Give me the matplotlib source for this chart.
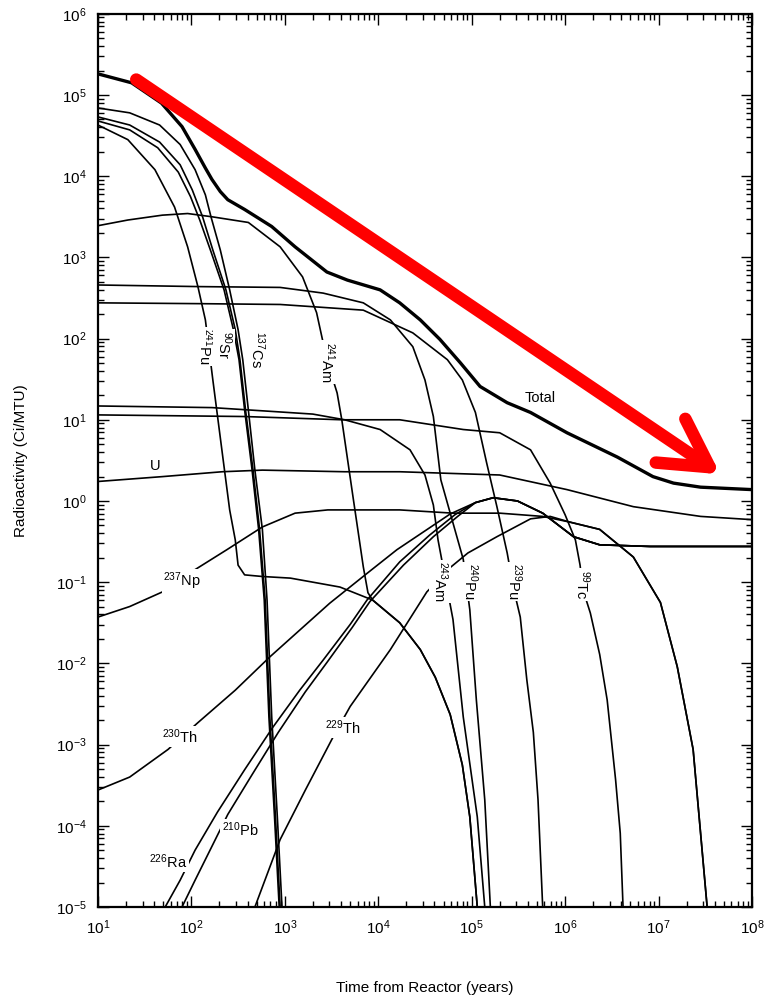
import numpy as np
import matplotlib
matplotlib.use("Agg")
import matplotlib.pyplot as plt
import matplotlib.transforms as mtransforms
from matplotlib.ticker import LogLocator, NullFormatter

plt.rcParams['font.family'] = ['Liberation Sans', 'DejaVu Sans']
plt.rcParams['mathtext.fontset'] = 'custom'
plt.rcParams['mathtext.rm'] = 'Liberation Sans'
plt.rcParams['mathtext.it'] = 'Liberation Sans:italic'

# curves given as log10 exponents: time (years) and activity (Ci/MTU)
lt_total = [1.0, 1.36, 1.68, 1.90, 2.04, 2.15, 2.22, 2.31, 2.39, 2.48, 2.57, 2.86, 3.11, 3.45,
            3.67, 4.02, 4.23, 4.45, 4.66, 4.88, 5.09, 5.38, 5.63, 6.02, 6.56, 6.94, 7.16,
            7.45, 8.0]
la_total = [5.26, 5.15, 4.90, 4.61, 4.33, 4.10, 3.96, 3.81, 3.71, 3.65, 3.59, 3.38, 3.13, 2.82,
            2.72, 2.60, 2.44, 2.23, 1.99, 1.70, 1.41, 1.21, 1.09, 0.84, 0.54, 0.30, 0.22,
            0.17, 0.14]

lt_cs137 = [1.00, 1.34, 1.66, 1.88, 2.04, 2.15, 2.21, 2.31, 2.41, 2.50, 2.55, 2.61, 2.68,
            2.76, 2.81, 2.86, 2.92, 2.97]
la_cs137 = [4.84, 4.78, 4.63, 4.39, 4.08, 3.77, 3.50, 3.09, 2.60, 2.11, 1.74, 1.12, 0.38,
            -0.35, -1.22, -2.66, -3.89, -5.0]

lt_sr90 = [1.00, 1.34, 1.66, 1.88, 2.01, 2.12, 2.23, 2.37, 2.47, 2.52, 2.58, 2.66, 2.73,
           2.79, 2.84, 2.90, 2.95]
la_sr90 = [4.73, 4.63, 4.42, 4.14, 3.83, 3.50, 3.09, 2.60, 2.11, 1.74, 1.12, 0.38, -0.35,
           -1.22, -2.66, -3.89, -5.0]

lt_ba137 = [1.00, 1.34, 1.64, 1.86, 1.99, 2.09, 2.21, 2.35, 2.45, 2.51, 2.57, 2.65, 2.72,
            2.78, 2.83, 2.89, 2.94]
la_ba137 = [4.68, 4.57, 4.35, 4.05, 3.75, 3.46, 3.07, 2.60, 2.11, 1.74, 1.12, 0.38, -0.35,
            -1.22, -2.66, -3.89, -5.0]

lt_pu241 = [1.00, 1.32, 1.61, 1.82, 1.96, 2.07, 2.15, 2.23, 2.34, 2.41, 2.47, 2.50, 2.57,
            2.76, 3.06, 3.59, 3.94, 4.23, 4.45, 4.61, 4.77, 4.90, 4.98, 5.06]
la_pu241 = [4.63, 4.45, 4.08, 3.62, 3.13, 2.64, 2.23, 1.49, 0.51, -0.11, -0.48, -0.79, -0.91,
            -0.93, -0.95, -1.06, -1.22, -1.50, -1.83, -2.17, -2.63, -3.25, -3.89, -5.0]

lt_am241 = [1.00, 1.32, 1.69, 1.96, 2.22, 2.61, 2.95, 3.19, 3.34, 3.45, 3.56, 3.61, 3.73,
            3.84, 3.89, 3.94, 4.23, 4.45, 4.61, 4.77, 4.90, 4.98, 5.06]
la_am241 = [3.39, 3.46, 3.52, 3.54, 3.50, 3.43, 3.13, 2.76, 2.32, 1.74, 1.33, 1.00, 0.05,
            -0.81, -1.13, -1.22, -1.50, -1.83, -2.17, -2.63, -3.25, -3.89, -5.0]

lt_pu240 = [1.00, 2.09, 2.95, 3.41, 3.84, 4.13, 4.37, 4.50, 4.59, 4.67, 4.79, 4.91, 4.98,
            5.05, 5.14, 5.20]
la_pu240 = [2.66, 2.64, 2.63, 2.56, 2.44, 2.23, 1.90, 1.49, 1.04, 0.26, -0.23, -0.72, -1.34,
            -2.45, -3.68, -5.0]

lt_pu239 = [1.00, 2.09, 2.95, 3.84, 4.37, 4.74, 4.90, 5.04, 5.16, 5.27, 5.38, 5.45, 5.52,
            5.59, 5.66, 5.71, 5.76]
la_pu239 = [2.44, 2.43, 2.42, 2.35, 2.07, 1.74, 1.49, 1.09, 0.47, -0.07, -0.64, -1.09, -1.43,
            -2.20, -2.85, -3.68, -5.0]

lt_am243 = [1.00, 2.22, 2.90, 3.30, 3.64, 4.02, 4.34, 4.50, 4.59, 4.64, 4.72, 4.80, 4.91,
            5.06, 5.14]
la_am243 = [1.17, 1.15, 1.10, 1.07, 1.00, 0.88, 0.63, 0.32, -0.05, -0.48, -0.97, -1.46, -2.66,
            -3.89, -5.0]

lt_tc99 = [1.00, 2.57, 3.61, 4.23, 4.91, 5.30, 5.63, 5.84, 6.00, 6.11, 6.16, 6.19, 6.27,
           6.37, 6.45, 6.54, 6.59, 6.62]
la_tc99 = [1.06, 1.04, 1.00, 1.00, 0.88, 0.84, 0.63, 0.22, -0.17, -0.48, -0.79, -1.09, -1.38,
           -1.89, -2.45, -3.43, -4.09, -5.0]

lt_u = [1.00, 1.69, 2.33, 2.76, 3.64, 4.23, 5.30, 6.02, 6.73, 7.45, 8.0]
la_u = [0.24, 0.30, 0.36, 0.38, 0.36, 0.36, 0.32, 0.14, -0.07, -0.19, -0.23]

lt_np237 = [1.00, 1.34, 1.69, 1.95, 2.38, 2.76, 3.11, 3.46, 4.23, 4.80, 5.30, 5.76, 6.05,
            6.37, 6.73, 7.02, 7.20, 7.37, 7.52]
la_np237 = [-1.43, -1.30, -1.12, -0.91, -0.60, -0.32, -0.15, -0.11, -0.11, -0.15, -0.15, -0.19,
            -0.26, -0.35, -0.69, -1.25, -2.04, -3.06, -5.0]

lt_th229 = [2.68, 2.95, 3.22, 3.52, 3.70, 4.13, 4.52, 4.77, 4.96, 5.27, 5.63, 5.84, 6.05,
            6.37, 6.73, 7.02, 7.20, 7.37, 7.52]
la_th229 = [-5.0, -4.17, -3.56, -2.90, -2.53, -1.83, -1.12, -0.82, -0.64, -0.44, -0.22, -0.19,
            -0.26, -0.35, -0.69, -1.25, -2.04, -3.06, -5.0]

lt_th230 = [1.00, 1.34, 1.75, 2.07, 2.47, 2.84, 3.16, 3.48, 3.86, 4.20, 4.55, 4.77, 5.04,
            5.23, 5.49, 5.76, 6.09, 6.37, 6.91, 8.0]
la_th230 = [-3.56, -3.40, -3.06, -2.73, -2.33, -1.92, -1.59, -1.26, -0.91, -0.60, -0.33, -0.16,
            -0.02, 0.04, 0.00, -0.15, -0.44, -0.54, -0.56, -0.56]

lt_ra226 = [1.72, 1.88, 2.04, 2.28, 2.57, 2.87, 3.16, 3.41, 3.70, 3.88, 4.23, 4.55, 4.82,
            5.04, 5.23, 5.49, 5.76, 6.09, 6.37, 6.91, 8.0]
la_ra226 = [-5.0, -4.67, -4.30, -3.83, -3.31, -2.79, -2.33, -1.96, -1.52, -1.22, -0.75, -0.42,
            -0.17, -0.02, 0.04, 0.00, -0.15, -0.44, -0.54, -0.56, -0.56]

lt_pb210 = [1.90, 2.04, 2.20, 2.39, 2.65, 2.93, 3.22, 3.45, 3.72, 3.91, 4.27, 4.59, 4.85,
            5.04, 5.23, 5.49, 5.76, 6.09, 6.37, 6.91, 8.0]
la_pb210 = [-5.0, -4.67, -4.30, -3.86, -3.37, -2.85, -2.35, -1.99, -1.56, -1.24, -0.79, -0.44,
            -0.19, -0.02, 0.04, 0.00, -0.15, -0.44, -0.54, -0.56, -0.56]

thin_curves = [(lt_cs137, la_cs137), (lt_sr90, la_sr90), (lt_ba137, la_ba137),
               (lt_pu241, la_pu241), (lt_am241, la_am241), (lt_pu240, la_pu240),
               (lt_pu239, la_pu239), (lt_am243, la_am243), (lt_tc99, la_tc99),
               (lt_u, la_u), (lt_np237, la_np237), (lt_th229, la_th229),
               (lt_th230, la_th230), (lt_ra226, la_ra226), (lt_pb210, la_pb210)]

# curve labels: text, log10 t, log10 A, rotation
labels = [("Total", 5.73, 1.27, 0),
          ("U", 1.61, 0.43, 0),
          ("$^{237}$Np", 1.90, -0.99, 0),
          ("$^{230}$Th", 1.88, -2.90, 0),
          ("$^{229}$Th", 3.62, -2.79, 0),
          ("$^{210}$Pb", 2.52, -4.05, 0),
          ("$^{226}$Ra", 1.75, -4.44, 0),
          ("$^{241}$Pu", 2.15, 1.90, -90),
          ("$^{90}$Sr", 2.35, 1.92, -90),
          ("$^{137}$Cs", 2.71, 1.86, -90),
          ("$^{241}$Am", 3.46, 1.71, -90),
          ("$^{243}$Am", 4.66, -0.99, -90),
          ("$^{240}$Pu", 4.99, -0.99, -90),
          ("$^{239}$Pu", 5.46, -0.99, -90),
          ("$^{99}$Tc", 6.18, -1.03, -90)]

arrow_start = (1.41, 5.19)
arrow_tip = (7.71, 0.29)

fig = plt.figure(figsize=(7.65, 9.98), dpi=100)
ax = fig.add_axes([0.128, 0.0912, 0.855, 0.895])
ax.set_xscale('log')
ax.set_yscale('log')
ax.set_xlim(1e1, 1e8)
ax.set_ylim(1e-5, 1e6)

for lt, la in thin_curves:
    ax.plot(10 ** np.array(lt), 10 ** np.array(la), color='black', lw=1.2, zorder=2,
            solid_joinstyle='round')
ax.plot(10 ** np.array(lt_total), 10 ** np.array(la_total), color='black', lw=2.4, zorder=3,
        solid_joinstyle='round')

for txt, lx, ly, rot in labels:
    ax.text(10 ** lx, 10 ** ly, txt, rotation=rot, ha='center', va='center', fontsize=10.5,
            zorder=5, bbox=dict(facecolor='white', edgecolor='none', pad=1.0))

# red trend arrow over the total curve
ax.annotate('', xy=(10 ** arrow_tip[0], 10 ** arrow_tip[1]),
            xytext=(10 ** arrow_start[0], 10 ** arrow_start[1]),
            arrowprops=dict(arrowstyle='->,head_length=3.4,head_width=1.9',
                            color='#ff0000', lw=9, shrinkA=0, shrinkB=4,
                            capstyle='round', joinstyle='round'),
            zorder=6)

ax.xaxis.set_major_locator(LogLocator(base=10, numticks=10))
ax.xaxis.set_minor_locator(LogLocator(base=10, subs=np.arange(2, 10), numticks=20))
ax.yaxis.set_major_locator(LogLocator(base=10, numticks=15))
ax.yaxis.set_minor_locator(LogLocator(base=10, subs=np.arange(2, 10), numticks=20))
ax.xaxis.set_minor_formatter(NullFormatter())
ax.yaxis.set_minor_formatter(NullFormatter())
ax.tick_params(which='both', direction='in', top=True, right=True, width=1.0)
ax.tick_params(which='major', length=8, labelsize=11, pad=8)
ax.tick_params(which='minor', length=4)
for sp in ax.spines.values():
    sp.set_linewidth(1.6)

ax.set_xlabel("Time from Reactor (years)", fontsize=11, labelpad=32)
ax.set_ylabel("Radioactivity (Ci/MTU)", fontsize=11, labelpad=20)

# keep the last x tick label inside the figure
fig.canvas.draw()
last = ax.get_xticklabels()[-1]
last.set_transform(last.get_transform() +
                   mtransforms.ScaledTranslation(-4 / 72, 0, fig.dpi_scale_trans))

fig.savefig("out.png", dpi=100)
